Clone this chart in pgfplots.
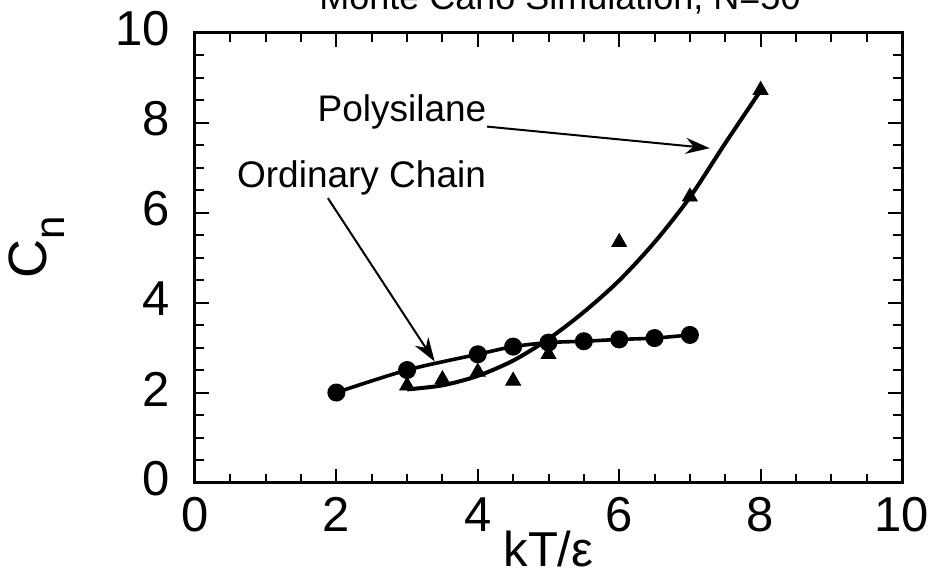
\documentclass[border=0pt]{standalone}
\usepackage{fontspec}
\setmainfont{Liberation Sans}
\usepackage{pgfplots}
\pgfplotsset{compat=1.18}
\usetikzlibrary{arrows.meta}

% characteristic ratio vs reduced temperature
\pgfplotstableread{
x y
2.0 2.01
3.0 2.51
4.0 2.86
4.5 3.03
5.0 3.12
5.5 3.15
6.0 3.19
6.5 3.22
7.0 3.29
}\ordinary

\pgfplotstableread{
x y
3.0 2.16
3.5 2.30
4.0 2.47
4.5 2.27
5.0 2.86
6.0 5.35
7.0 6.36
8.0 8.73
}\polysilane

\pgfplotstableread{
x y
3.0 2.08
3.5 2.17
4.0 2.38
4.5 2.72
5.0 3.20
5.5 3.80
6.0 4.50
6.5 5.35
7.0 6.35
7.5 7.55
8.0 8.72
}\polyfit

\begin{document}
\begin{tikzpicture}
\useasboundingbox (0,0) rectangle (466.5pt,288pt);
\node[anchor=base, inner sep=0pt, font=\fontsize{18}{20}\selectfont]
  at (280pt,283.3pt) {Monte Carlo Simulation, N=50};
\begin{axis}[
    at={(97.5pt,46.5pt)}, anchor=south west,
    scale only axis,
    width=353.5pt, height=225pt,
    xmin=0, xmax=10, ymin=0, ymax=10,
    xtick={0,2,...,10}, ytick={0,2,...,10},
    minor x tick num=3, minor y tick num=3,
    tick align=inside,
    major tick length=7pt, minor tick length=4.5pt,
    axis line style={line width=1.5pt},
    every tick/.style={line width=1pt, black},
    /pgf/number format/assume math mode=true,
    ticklabel style={font=\fontsize{24.5}{28}\selectfont, inner sep=0pt},
    xticklabel style={yshift=-7pt},
    yticklabel style={xshift=-12.5pt, yshift=2pt},
    xlabel={kT/ε},
    xlabel style={font=\fontsize{24.5}{28}\selectfont, at={(rel axis cs:0.5,0)},
        anchor=base, yshift=-41.8pt, inner sep=0pt},
    clip=false,
]
\addplot[black, line width=1.8pt, smooth, mark=*, mark size=3.6pt,
    mark options={solid}] table {\ordinary};
\addplot[black, only marks, mark=triangle*, mark size=4.3pt] table {\polysilane};
\addplot[black, line width=2pt, smooth] table {\polyfit};

\node[rotate=90, anchor=center, inner sep=0pt, font=\fontsize{27}{30}\selectfont]
    at ([xshift=-79pt]rel axis cs:0,0.524)
    {C\raisebox{-9pt}{\fontsize{21}{21}\selectfont n}};

\draw[-{Stealth[length=12pt,width=8pt]}, line width=1pt]
    (axis cs:4.13,7.92) -- (axis cs:7.28,7.44);
\draw[-{Stealth[length=12pt,width=8pt]}, line width=1pt]
    (axis cs:1.88,6.33) -- (axis cs:3.39,2.70);
\node[anchor=base west, inner sep=0pt, font=\fontsize{18.5}{20}\selectfont]
    at (axis cs:1.73,8.03) {Polysilane};
\node[anchor=base west, inner sep=0pt, font=\fontsize{18.5}{20}\selectfont]
    at (axis cs:0.59,6.56) {Ordinary Chain};
\end{axis}
\end{tikzpicture}
\end{document}
